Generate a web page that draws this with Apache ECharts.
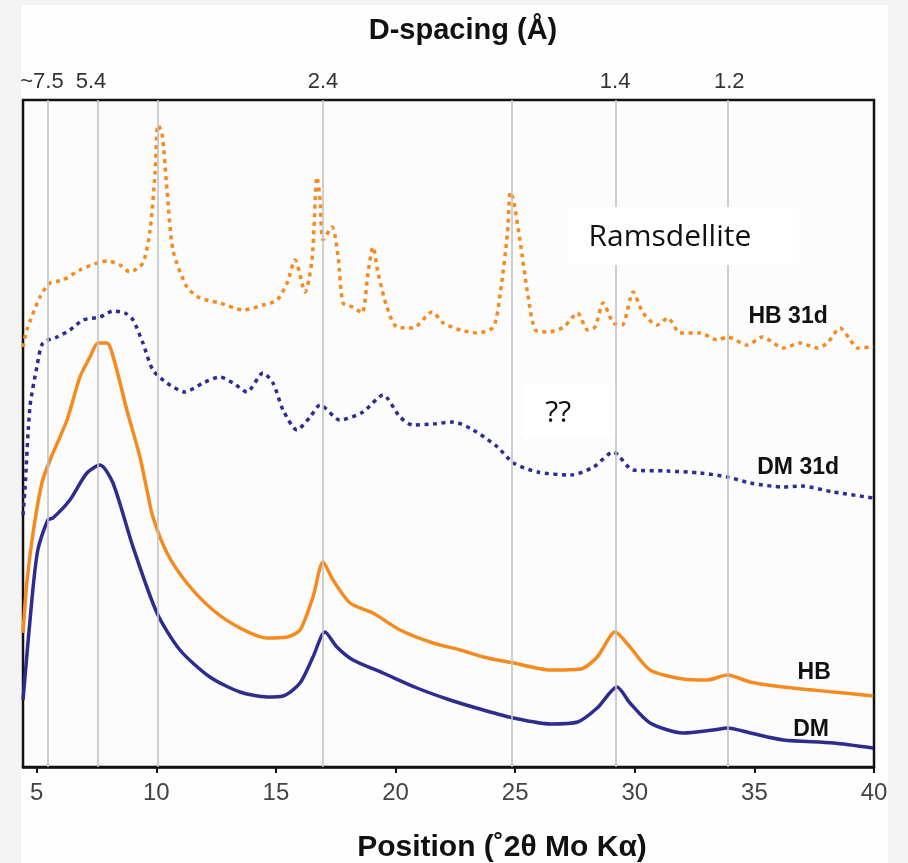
<!DOCTYPE html>
<html><head><meta charset="utf-8">
<script src="https://cdn.jsdelivr.net/npm/echarts@6/dist/echarts.min.js"></script>
<style>html,body{margin:0;padding:0;background:#f3f3f3}#c{width:908px;height:863px}</style>
</head><body><div id="c"></div>
<script>
// Bottom axis ticks (°2θ Mo Kα)
const xTicks = [5, 10, 15, 20, 25, 30, 35, 40];
// Vertical reference lines (°2θ)
const refLines = [5.47, 7.56, 10.07, 16.95, 24.85, 29.22, 33.87];
// Top axis d-spacing labels (Å) and their positions (°2θ)
const dTickPos = [5.22, 7.27, 16.97, 29.18, 33.95];
const dTickLabels = ['~7.5', '5.4', '2.4', '1.4', '1.2'];

// Series: [2θ, intensity (a.u.)]
const hb31d = [[4.43,420],[4.59,437],[5.14,470],[5.56,484],[6.10,487],[6.81,497],[7.65,505],[7.98,506],[8.48,502],[8.90,495],[9.44,504],[9.74,537],[9.95,594],[10.07,642],[10.24,634],[10.45,577],[10.70,517],[11.28,480],[11.83,469],[12.66,464],[13.63,457],[14.46,462],[15.05,467],[15.47,484],[15.80,507],[16.22,475],[16.51,507],[16.72,590],[16.85,567],[16.97,527],[17.35,540],[17.60,510],[17.81,464],[18.22,460],[18.60,454],[18.85,494],[19.06,520],[19.27,494],[19.64,460],[20.06,440],[20.73,439],[21.53,455],[21.99,444],[22.71,437],[23.42,434],[24.09,440],[24.38,474],[24.68,534],[24.80,575],[24.93,567],[25.22,524],[25.52,474],[25.85,437],[26.36,435],[27.03,440],[27.61,454],[28.03,437],[28.34,440],[28.68,464],[29.10,444],[29.47,442],[29.93,475],[30.35,454],[30.93,442],[31.39,449],[31.89,434],[32.73,434],[33.45,427],[33.87,430],[34.70,422],[35.33,430],[36.21,419],[36.92,424],[37.63,419],[38.05,424],[38.59,439],[39.01,427],[39.30,419],[39.97,420]];
const dm31d = [[4.43,252],[4.51,277],[4.72,360],[5.01,400],[5.26,424],[5.85,430],[6.39,437],[6.94,447],[7.65,450],[8.19,456],[8.69,454],[9.03,447],[9.44,424],[9.86,397],[10.45,384],[11.20,375],[11.96,384],[12.66,390],[13.21,384],[13.79,375],[14.46,394],[14.88,384],[15.30,357],[15.88,337],[16.43,350],[16.85,362],[17.68,347],[18.64,355],[19.48,372],[20.19,350],[20.73,342],[21.57,343],[22.41,345],[23.25,337],[24.26,320],[24.93,304],[25.94,295],[27.32,292],[28.28,300],[29.10,315],[29.93,297],[31.35,296],[32.73,294],[33.87,290],[34.83,284],[36.21,280],[36.92,281],[38.30,275],[39.97,269]];
const hb = [[4.43,134],[4.59,184],[4.85,234],[5.22,284],[5.56,307],[6.27,347],[6.81,390],[7.23,410],[7.56,424],[7.94,424],[8.27,404],[8.77,357],[9.32,310],[9.61,277],[9.86,250],[10.45,214],[11.28,184],[12.37,157],[13.50,139],[14.63,129],[15.47,130],[16.01,137],[16.55,170],[16.97,205],[17.39,187],[18.10,164],[19.06,154],[20.19,137],[21.57,124],[22.71,117],[23.67,110],[24.93,104],[26.48,97],[27.74,98],[28.43,110],[29.18,135],[29.80,120],[30.64,97],[32.02,88],[33.03,87],[33.87,92],[34.83,85],[36.21,80],[38.30,75],[39.97,71]];
const dm = [[4.43,67],[4.80,167],[5.05,217],[5.47,247],[5.68,249],[6.39,267],[7.10,294],[7.65,302],[8.19,284],[9.03,220],[10.03,154],[10.99,117],[12.24,90],[13.50,75],[14.63,70],[15.30,71],[16.01,84],[16.55,110],[17.05,135],[17.55,120],[18.22,107],[19.48,94],[20.90,79],[22.28,67],[23.67,57],[24.93,49],[26.48,43],[27.61,45],[28.43,59],[29.26,80],[29.80,64],[30.64,44],[32.02,34],[33.28,37],[33.87,39],[34.83,34],[36.21,27],[38.30,24],[39.97,19]];

// Annotations [text, x, y]
const seriesLabels = [['HB 31d', 36.41, 450], ['DM 31d', 36.83, 299], ['HB', 37.50, 94], ['DM', 37.37, 37]];
const boxes = [
  {text: 'Ramsdellite', x0: 27.21, x1: 36.87, y0: 560, y1: 502, tx: 31.47, ty: 530},
  {text: '??', x0: 25.33, x1: 29.18, y0: 384, y1: 330, tx: 26.80, ty: 354}
];

const ORANGE = '#F58A1F', NAVY = '#2E2C8E';
const chart = echarts.init(document.getElementById('c'));
const dotted = [4, 4.5];
chart.setOption({
  animation: false,
  backgroundColor: '#f3f3f3',
  title: [
    {text: 'D-spacing (Å)', left: 458, top: 11, textAlign: 'center',
     textStyle: {fontFamily: 'Liberation Sans', fontWeight: 'bold', fontSize: 29, color: '#111'}},
    {text: 'Position (˚2θ Mo Kα)', left: 497, top: 828, textAlign: 'center',
     textStyle: {fontFamily: 'Liberation Sans', fontWeight: 'bold', fontSize: 30, color: '#111'}}
  ],
  grid: {left: 23, right: 34, top: 100, bottom: 96, show: true, borderColor: '#111', borderWidth: 2.5, backgroundColor: '#fcfcfc'},
  xAxis: [
    {type: 'value', position: 'bottom', min: 4.43, max: 40,
     axisLine: {show: true, lineStyle: {color: '#111', width: 2.5}},
     axisTick: {show: true, customValues: xTicks, length: 6, lineStyle: {color: '#111', width: 2}},
     axisLabel: {customValues: xTicks, fontFamily: 'Liberation Sans', fontSize: 24, color: '#444', margin: 14},
     splitLine: {show: false}},
    {type: 'value', position: 'top', min: 4.43, max: 40,
     axisLine: {show: false}, axisTick: {show: false}, splitLine: {show: false},
     axisLabel: {customValues: dTickPos, fontFamily: 'Liberation Sans', fontSize: 22, color: '#333', margin: 7,
       formatter: function (v) { const i = dTickPos.findIndex(p => Math.abs(p - v) < 1e-6); return i >= 0 ? dTickLabels[i] : ''; }}}
  ],
  yAxis: {type: 'value', min: 0, max: 667, axisLine: {show: false}, axisTick: {show: false}, axisLabel: {show: false}, splitLine: {show: false}},
  series: [
    {type: 'line', data: [], z: 1, silent: true,
     markLine: {silent: true, symbol: ['none', 'none'], label: {show: false}, animation: false,
       lineStyle: {color: '#c2c2c2', width: 1.6, type: 'solid'},
       data: refLines.map(v => ({xAxis: v}))}},
    {name: 'HB 31d', type: 'line', data: hb31d, z: 3, showSymbol: false, smooth: 0.25,
     lineStyle: {color: ORANGE, width: 3.5, type: dotted}},
    {name: 'DM 31d', type: 'line', data: dm31d, z: 3, showSymbol: false, smooth: 0.25,
     lineStyle: {color: NAVY, width: 3.5, type: dotted}},
    {name: 'HB', type: 'line', data: hb, z: 3, showSymbol: false, smooth: 0.25,
     lineStyle: {color: ORANGE, width: 3.5}},
    {name: 'DM', type: 'line', data: dm, z: 3, showSymbol: false, smooth: 0.25,
     lineStyle: {color: NAVY, width: 3.5}}
  ]
});

const P = (x, y) => chart.convertToPixel({gridIndex: 0}, [x, y]);
const g = [{type: 'rect', z: -10, silent: true, shape: {x: 21, y: 5, width: 867, height: 858}, style: {fill: '#fefefe'}}];
boxes.forEach(b => {
  const a = P(b.x0, b.y0), c = P(b.x1, b.y1), t = P(b.tx, b.ty);
  g.push({type: 'rect', z: 5, silent: true, shape: {x: a[0], y: a[1], width: c[0] - a[0], height: c[1] - a[1]}, style: {fill: '#ffffff'}});
  g.push({type: 'text', z: 6, silent: true, x: t[0], y: t[1], style: {text: b.text, fill: '#111', font: '30px "Open Sans"', align: 'center', verticalAlign: 'middle'}});
});
seriesLabels.forEach(l => {
  const p = P(l[1], l[2]);
  g.push({type: 'text', z: 6, silent: true, x: p[0], y: p[1], style: {text: l[0], fill: '#111', font: 'bold 23px "Liberation Sans"', align: 'center', verticalAlign: 'middle'}});
});
chart.setOption({graphic: g});
</script></body></html>
